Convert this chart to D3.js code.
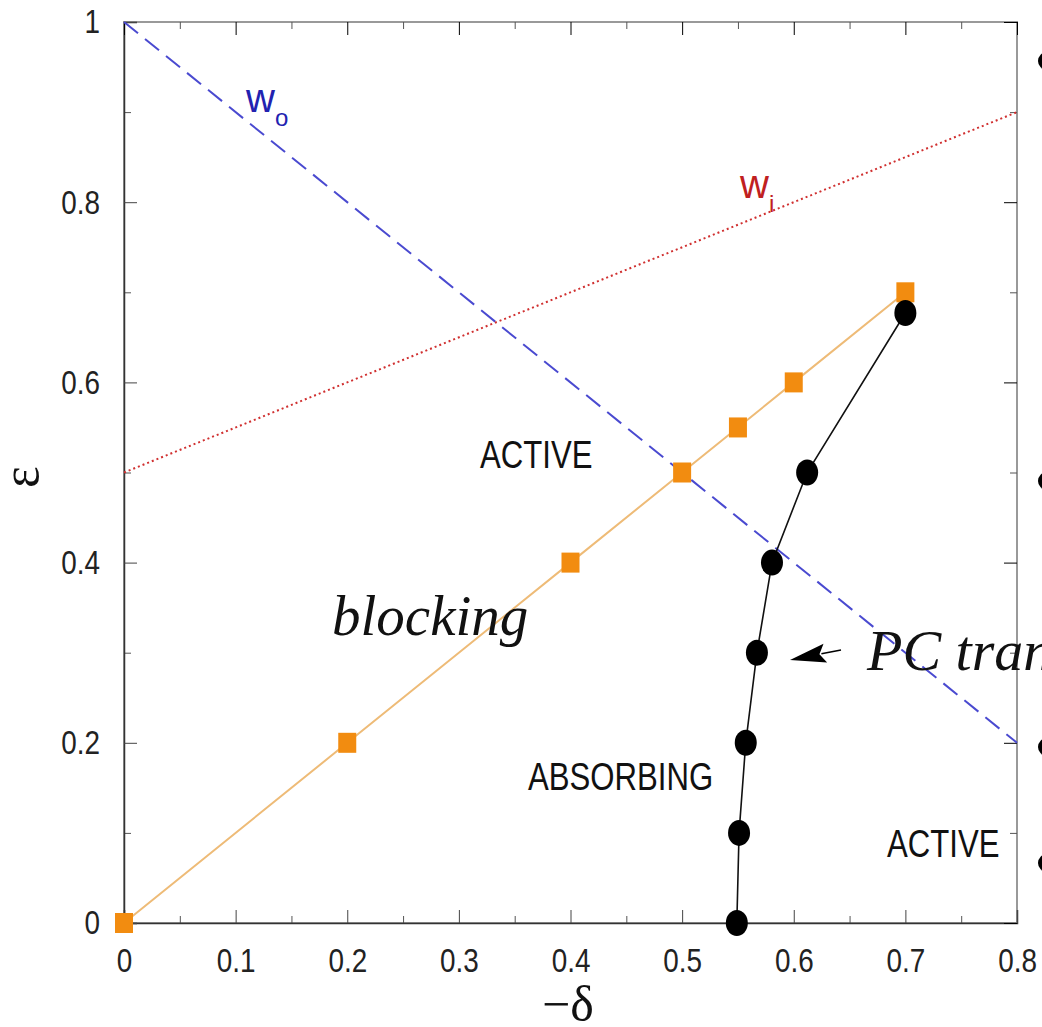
<!DOCTYPE html>
<html lang="en">
<head>
<meta charset="UTF-8">
<title>Phase diagram</title>
<script src="https://d3js.org/d3.v7.min.js"></script>
<style>
  body { margin: 0; background: #fff; }
  .tick text { font-family: "Liberation Sans", sans-serif; fill: #222; }
</style>
</head>
<body>
<div id="chart"></div>
<script>
// data
const squareDelta = [0, 0.2, 0.4, 0.5, 0.55, 0.6, 0.7];
const squareEps   = [0, 0.2, 0.4, 0.5, 0.55, 0.6, 0.7];
const circleDelta = [0.549, 0.551, 0.557, 0.567, 0.5805, 0.612, 0.7];
const circleEps   = [0, 0.1, 0.2, 0.3, 0.4, 0.5, 0.677];
const woDelta = [0, 0.8], woEps = [1, 0.2];
const wiDelta = [0, 0.8], wiEps = [0.5, 0.9];
const xTicks = [0, 0.1, 0.2, 0.3, 0.4, 0.5, 0.6, 0.7, 0.8];
const xMinor = [0.05, 0.15, 0.25, 0.35, 0.45, 0.55, 0.65, 0.75];
const yTicks = [0, 0.2, 0.4, 0.6, 0.8, 1];
const yMinor = [0.1, 0.3, 0.5, 0.7, 0.9];

const W = 1042, H = 1027;
const margin = { top: 22, right: 25, bottom: 104, left: 124 };
const width = W - margin.left - margin.right;   // 893
const height = H - margin.top - margin.bottom;  // 901
const narrow = 0.82; // the picture's sans text is condensed

const svg = d3.select('#chart').append('svg')
  .attr('width', W).attr('height', H);

const x = d3.scaleLinear().domain([0, 0.8]).range([margin.left, margin.left + width]);
const y = d3.scaleLinear().domain([0, 1]).range([margin.top + height, margin.top]);

const fmt = d => d === 0 ? '0' : d === 1 ? '1' : d3.format('.1f')(d);

// frame: top and right in grey
svg.append('rect')
  .attr('x', x(0)).attr('y', y(1))
  .attr('width', width).attr('height', height)
  .attr('fill', 'none').attr('stroke', '#999').attr('stroke-width', 2);

// minor ticks
function minor(g, axis) {
  g.call(axis);
  g.select('.domain').remove();
  g.selectAll('line').attr('stroke', '#555');
}
svg.append('g').attr('transform', `translate(0,${y(0)})`)
  .call(minor, d3.axisBottom(x).tickValues(xMinor).tickSize(-7).tickFormat(''));
svg.append('g').attr('transform', `translate(0,${y(1)})`)
  .call(minor, d3.axisTop(x).tickValues(xMinor).tickSize(-7).tickFormat(''));
svg.append('g').attr('transform', `translate(${x(0)},0)`)
  .call(minor, d3.axisLeft(y).tickValues(yMinor).tickSize(-7).tickFormat(''));
svg.append('g').attr('transform', `translate(${x(0.8)},0)`)
  .call(minor, d3.axisRight(y).tickValues(yMinor).tickSize(-7).tickFormat(''));

// major axes
const xAxis = svg.append('g').attr('transform', `translate(0,${y(0)})`)
  .call(d3.axisBottom(x).tickValues(xTicks).tickSize(-13).tickPadding(25).tickFormat(fmt));
const yAxis = svg.append('g').attr('transform', `translate(${x(0)},0)`)
  .call(d3.axisLeft(y).tickValues(yTicks).tickSize(-13).tickPadding(24).tickFormat(fmt));
svg.append('g').attr('transform', `translate(0,${y(1)})`)
  .call(d3.axisTop(x).tickValues(xTicks).tickSize(-13).tickFormat(''))
  .select('.domain').remove();
svg.append('g').attr('transform', `translate(${x(0.8)},0)`)
  .call(d3.axisRight(y).tickValues(yTicks).tickSize(-13).tickFormat(''))
  .select('.domain').remove();

[xAxis, yAxis].forEach(g => {
  g.select('.domain').attr('stroke', '#333').attr('stroke-width', 1.5);
  g.selectAll('.tick line').attr('stroke', '#444');
  g.selectAll('.tick text')
    .attr('font-size', 34)
    .attr('x', function() { return +d3.select(this).attr('x') / narrow || 0; })
    .attr('transform', `scale(${narrow},1)`);
});
xAxis.selectAll('.tick text').attr('dy', '0.71em');

// w_o and w_i lines
const line = d3.line().x(d => x(d[0])).y(d => y(d[1]));
svg.append('path')
  .datum(d3.zip(woDelta, woEps))
  .attr('d', line).attr('fill', 'none')
  .attr('stroke', '#4a4ad0').attr('stroke-width', 2)
  .attr('stroke-dasharray', '18,9');
svg.append('path')
  .datum(d3.zip(wiDelta, wiEps))
  .attr('d', line).attr('fill', 'none')
  .attr('stroke', '#d03030').attr('stroke-width', 2)
  .attr('stroke-dasharray', '2,3');

// orange series
const sq = d3.zip(squareDelta, squareEps);
svg.append('path').datum(sq)
  .attr('d', line).attr('fill', 'none')
  .attr('stroke', '#eebb77').attr('stroke-width', 2);
svg.selectAll('rect.sq').data(sq).enter().append('rect')
  .attr('class', 'sq')
  .attr('x', d => x(d[0]) - 9).attr('y', d => y(d[1]) - 10)
  .attr('width', 18).attr('height', 20)
  .attr('fill', '#f28c10');

// black series
const ci = d3.zip(circleDelta, circleEps);
svg.append('path').datum(ci)
  .attr('d', line).attr('fill', 'none')
  .attr('stroke', '#111').attr('stroke-width', 1.6);
svg.selectAll('ellipse.ci').data(ci).enter().append('ellipse')
  .attr('class', 'ci')
  .attr('cx', d => x(d[0])).attr('cy', d => y(d[1]))
  .attr('rx', 11).attr('ry', 13)
  .attr('fill', '#000');

// region labels
const sans = '"Liberation Sans", sans-serif';
const serif = '"Liberation Serif", "DejaVu Serif", serif';
function label(t, px, py, size, opts = {}) {
  const sx = opts.sx || 1;
  return svg.append('text')
    .attr('transform', `translate(${px},${py}) scale(${sx},1)`)
    .attr('font-family', opts.family || sans)
    .attr('font-size', size)
    .attr('font-style', opts.italic ? 'italic' : null)
    .attr('fill', opts.fill || '#111')
    .attr('text-anchor', opts.anchor || 'start')
    .text(t);
}
label('ACTIVE', 480, 468, 38, { sx: narrow });
label('ABSORBING', 528, 790, 38, { sx: narrow });
label('ACTIVE', 887, 857, 38, { sx: narrow });
label('blocking', 332, 635, 57, { family: serif, italic: true });
label('PC tran', 867, 670, 58, { family: serif, italic: true });

// w labels
const wo = label('w', 246, 112, 40, { fill: '#2222b0' });
wo.append('tspan').attr('font-size', 24).attr('dy', 14).text('o');
const wi = label('w', 740, 198, 40, { fill: '#c02020' });
wi.append('tspan').attr('font-size', 24).attr('dy', 14).text('i');

// arrow pointing at the PC transition
const tail = [841, 650], tip = [790, 660];
const len = Math.hypot(tail[0] - tip[0], tail[1] - tip[1]);
const ux = (tail[0] - tip[0]) / len, uy = (tail[1] - tip[1]) / len;
const headLen = 36, headHalf = 9.5;
const base = [tip[0] + ux * headLen, tip[1] + uy * headLen];
svg.append('line')
  .attr('x1', tail[0]).attr('y1', tail[1])
  .attr('x2', base[0] - ux * 4).attr('y2', base[1] - uy * 4)
  .attr('stroke', '#000').attr('stroke-width', 1.5);
svg.append('path')
  .attr('d', `M${tip} L${base[0] - uy * headHalf},${base[1] + ux * headHalf}
    L${base[0] - ux * 6},${base[1] - uy * 6}
    L${base[0] + uy * headHalf},${base[1] - ux * headHalf} Z`)
  .attr('fill', '#000');

// axis titles
svg.append('text')
  .attr('transform', 'translate(38,477) rotate(-90)')
  .attr('text-anchor', 'middle')
  .attr('font-family', serif).attr('font-size', 52)
  .attr('fill', '#111')
  .text('ε');
svg.append('text')
  .attr('x', 568).attr('y', 1021)
  .attr('text-anchor', 'middle')
  .attr('font-family', serif).attr('font-size', 50)
  .attr('fill', '#111')
  .text('−δ');

// cut-off bullet marks on the right edge
const bulletY = [61, 481, 747, 863];
svg.selectAll('circle.bullet').data(bulletY).enter().append('circle')
  .attr('class', 'bullet')
  .attr('cx', 1047).attr('cy', d => d).attr('r', 9)
  .attr('fill', '#000');
</script>
</body>
</html>
